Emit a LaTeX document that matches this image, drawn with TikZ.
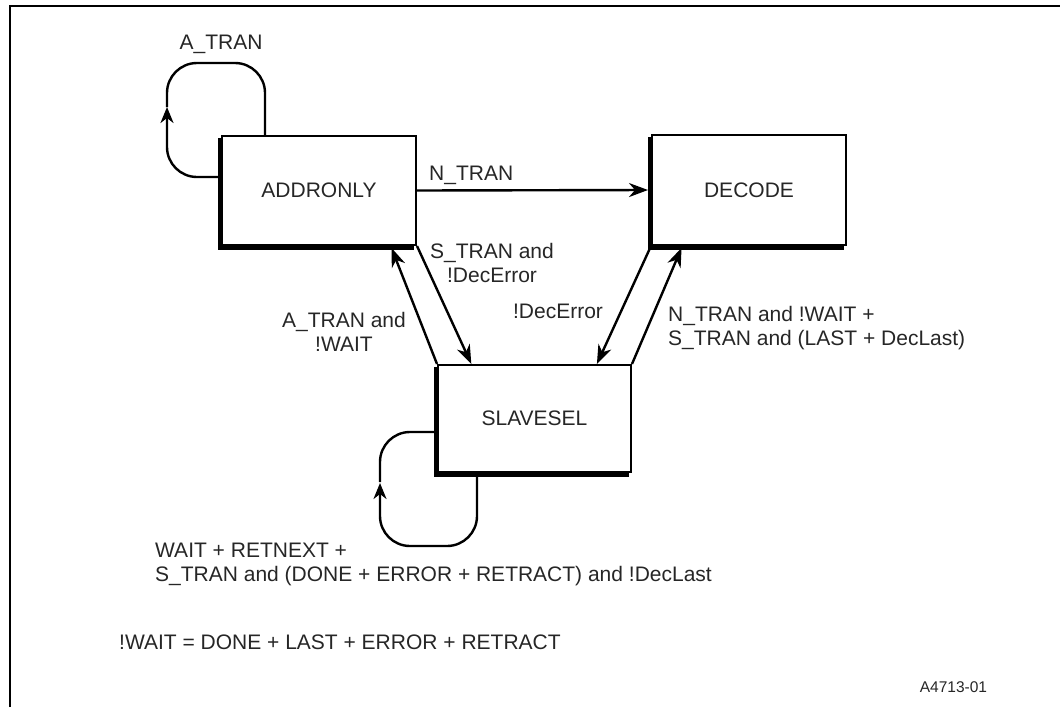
\documentclass[tikz,border=0pt]{standalone}
\usepackage{fontspec}
\setmainfont{Liberation Sans}
\usetikzlibrary{arrows.meta,calc}

\begin{document}
\begin{tikzpicture}[x=1pt,y=-1pt,
  txt/.style={text=black!85, font=\fontsize{21}{24}\selectfont, inner sep=0pt},
  state/.style={txt, draw=black, line width=2pt, minimum width=194pt, minimum height=109pt},
  edge/.style={line width=5pt},
  tr/.style={line width=2.4pt, -{Stealth[length=19pt,width=14pt,inset=6pt]}},
  selfloop/.style={line width=2.4pt, rounded corners=30pt},
  looptip/.style={selfloop, -{Stealth[length=16pt,width=13pt,inset=5pt]}}
]
\useasboundingbox (0,0) rectangle (1060,707);

% page frame
\draw[line width=2pt] (10,707) -- (10,6) -- (1060,6);

% states
\node[state] (add) at (319,190.5) {ADDRONLY};
\node[state, minimum height=110pt] (dec) at (749,190) {DECODE};
\node[state, minimum width=193pt, minimum height=107pt] (sel) at (534.5,418.5) {SLAVESEL};

% heavy left and bottom edges of each state box
\foreach \s in {add,dec,sel}{
  \draw[edge] ($(\s.north west)+(-1,3)$) |- ($(\s.south east)+(-3,1)$);
}

% transitions between states
\draw[tr, shorten >=3pt] (add.east) -- (dec.west);
\draw[tr] (add.south east) -- ($(sel.north west)!0.176!(sel.north east)$);
\draw[tr, shorten >=2pt] (sel.north west) -- ($(add.south west)!0.866!(add.south east)$);
\draw[tr] (dec.south west) -- ($(sel.north west)!0.82!(sel.north east)$);
\draw[tr, shorten >=2pt] (sel.north east) -- ($(dec.south west)!0.16!(dec.south east)$);

% ADDRONLY self loop
\draw[looptip] ($(add.west)+(0,-13.5)$) -- ++(-54,0) -- ++(0,-70);
\draw[selfloop] ($(add.west)+(-54,-83.5)$) -- ++(0,-44) -| ($(add.north west)+(44,0)$);

% SLAVESEL self loop
\draw[looptip] ($(sel.south west)+(40,0)$) -- ++(0,73) -- ++(-97,0) -- ++(0,-63);
\draw[selfloop] ($(sel.west)+(-57,63.5)$) |- ($(sel.west)+(0,13.5)$);

% transition conditions
\node[txt] (latran) at (221,44) {A\_TRAN};
\node[txt, anchor=west] (lntran) at (429,175) {N\_TRAN};
\node[txt, align=center] (lstran) at (492,263) {S\_TRAN and\\!DecError};
\node[txt] (ldecerr) at (558,311) {!DecError};
\node[txt, align=center] (latranw) at (344,332) {A\_TRAN and\\!WAIT};
\node[txt, align=left, anchor=west] (lntranw) at (668,328.5) {N\_TRAN and !WAIT +\\S\_TRAN and (LAST + DecLast)};
\node[txt, align=left, anchor=west] (lwait) at (155,564.5) {WAIT + RETNEXT +\\S\_TRAN and (DONE + ERROR + RETRACT) and !DecLast};

% definition and figure number
\node[txt, anchor=west] (ldef) at (119,642) {!WAIT = DONE + LAST + ERROR + RETRACT};
\node[txt, font=\fontsize{15.5}{18}\selectfont] (fignum) at (953.5,687) {A4713-01};
\end{tikzpicture}
\end{document}
